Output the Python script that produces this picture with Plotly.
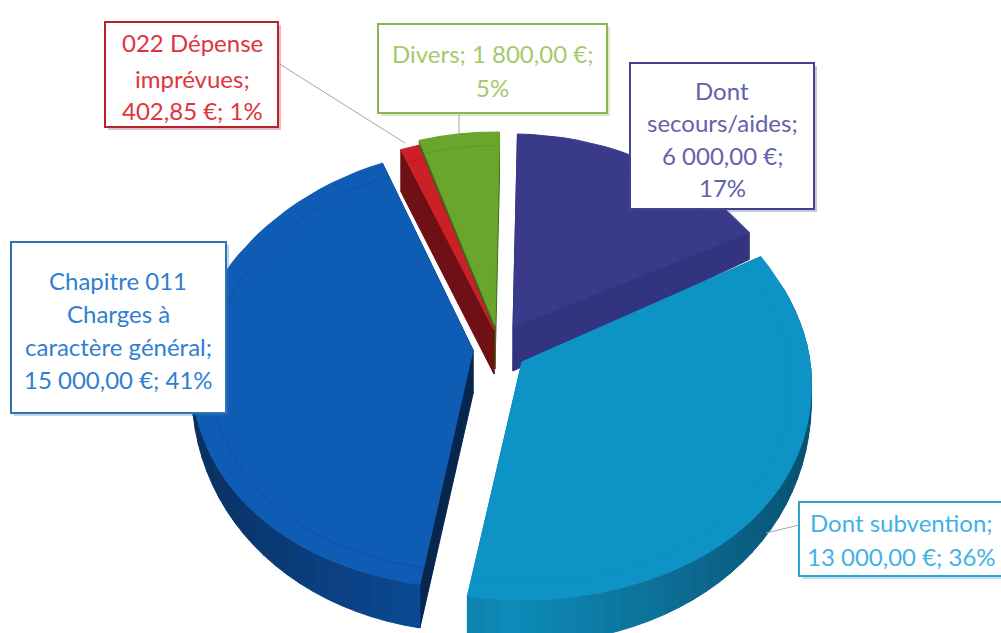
import numpy as np
import plotly.graph_objects as go

# Data, clockwise from the top
categories = ['Dont secours/aides', 'Dont subvention', 'Chapitre 011 Charges à caractère général',
              '022 Dépense imprévues', 'Divers']
values = [6000.00, 13000.00, 15000.00, 402.85, 1800.00]
label_lines = [
    ['Dont', 'secours/aides;', '6 000,00 €;', '17%'],
    ['Dont subvention;', '13 000,00 €; 36%'],
    ['Chapitre 011', 'Charges à', 'caractère général;', '15 000,00 €; 41%'],
    ['022 Dépense', 'imprévues;', '402,85 €; 1%'],
    ['Divers; 1 800,00 €;', '5%'],
]

# Styles for each slice, same order
face_colors = ['#393a8a', '#0d93c6', '#0f5cb4', '#cc2027', '#6aa52c']
edge_colors = ['#33347f', '#0c84b0', '#07264d', '#6e1015', '#3d6e1c']
wall_light = ['#33347f', '#0f8cba', '#0c4e9e', '#6e1015', '#3d6e1c']
wall_dark = ['#2a2b6c', '#0a4f70', '#0a2f5e', '#5a0c10', '#2f5716']
border_colors = ['#42438f', '#2fa3cc', '#2e74b5', '#b8232b', '#8db652']
text_colors = ['#6461ab', '#3fb2e6', '#2f7fd0', '#e0343c', '#a5c96b']

# Where each exploded slice has its tip and how big it looks, in picture pixels
apex_x = [513, 522, 473, 494, 495]
apex_y = [327, 362, 350, 330, 325]
radius_x = [285, 288, 280, 288, 288]
radius_back = [193, 215, 200, 193, 193]
# Label boxes: x0, y0, x1, y1 and the line heights inside
boxes = [(630, 63, 814, 209), (799, 502, 1010, 576), (11, 242, 226, 413),
         (105, 22, 278, 127), (378, 24, 607, 113)]
text_x = [722, 901, 118, 192, 492]
text_y = [[90, 122, 155, 187], [522, 556], [280, 313, 346, 379], [42, 78, 110], [53, 87]]
leaders = [None, (799, 525, 766, 533), None, (278, 63, 405, 143), (459, 113, 459, 133)]

RY_FRONT, DEPTH, PERSP, ROTATION = 238, 44, 0.1, 1.0


def rim(t, i, scale=1.0):
    # tilted, slightly perspective pie: the front is wider and taller than the back
    s, c = np.sin(t), np.cos(t)
    x = apex_x[i] + scale * radius_x[i] * s * (1 - PERSP * c)
    y = apex_y[i] - scale * np.where(c > 0, radius_back[i], RY_FRONT) * c
    return x, y


def wall_height(t):
    # the side wall thins out towards the left and right ends of the pie
    return DEPTH * (0.25 + 0.75 * np.abs(np.cos(t)))


def hex_mix(a, b, f):
    ca = np.array([int(a[i:i + 2], 16) for i in (1, 3, 5)])
    cb = np.array([int(b[i:i + 2], 16) for i in (1, 3, 5)])
    r, g, bl = (ca + (cb - ca) * f).astype(int)
    return f'rgb({r},{g},{bl})'


def poly(fig, xs, ys, color):
    fig.add_trace(go.Scatter(x=xs, y=ys, mode='lines', fill='toself', fillcolor=color,
                             line=dict(color=color, width=1), hoverinfo='skip', showlegend=False))


edges = np.radians(np.concatenate([[0], np.cumsum(values)]) / np.sum(values) * 360 + ROTATION)

fig = go.Figure()

# painter's order: back slices first, the big front ones last
for i in [0, 4, 3, 2, 1]:
    ax, ay = apex_x[i], apex_y[i]
    t = np.linspace(edges[i], edges[i + 1], max(4, int((edges[i + 1] - edges[i]) / np.radians(3))))
    x, y = rim(t, i)
    h = wall_height(t)

    # straight walls
    for k in (0, -1):
        poly(fig, [ax, x[k], x[k], ax, ax], [ay, y[k], y[k] + h[k], ay + DEPTH, ay], edge_colors[i])

    # outer wall, darker towards the sides
    for j in range(len(t) - 1):
        if np.cos(t[j]) > 0.35:
            continue
        shade = hex_mix(wall_light[i], wall_dark[i], abs(np.sin(t[j])))
        poly(fig, [x[j], x[j + 1], x[j + 1], x[j], x[j]],
             [y[j], y[j + 1], y[j + 1] + h[j + 1], y[j] + h[j], y[j]], shade)

    # top face
    poly(fig, np.r_[ax, x, ax], np.r_[ay, y, ay], face_colors[i])

    # faint bevel line inside the rim
    bx, by = rim(t, i, 0.93)
    fig.add_trace(go.Scatter(x=bx, y=by, mode='lines', opacity=0.2,
                             line=dict(color=edge_colors[i], width=1),
                             hoverinfo='skip', showlegend=False))

shapes = []
annotations = []
for i in range(len(values)):
    x0, y0, x1, y1 = boxes[i]
    if leaders[i]:
        lx0, ly0, lx1, ly1 = leaders[i]
        shapes.append(dict(type='line', x0=lx0, y0=ly0, x1=lx1, y1=ly1, xref='x', yref='y',
                           line=dict(color='#a6a6a6', width=1)))
    # soft shadow, then the box
    shapes.append(dict(type='rect', x0=x0 + 3, y0=y0 + 3, x1=x1 + 3, y1=y1 + 3, xref='x', yref='y',
                       fillcolor=border_colors[i], opacity=0.3, line=dict(width=0)))
    shapes.append(dict(type='rect', x0=x0, y0=y0, x1=x1, y1=y1, xref='x', yref='y',
                       fillcolor='white', line=dict(color=border_colors[i], width=2)))
    for line, ty in zip(label_lines[i], text_y[i]):
        annotations.append(dict(x=text_x[i], y=ty, text=line, xref='x', yref='y', showarrow=False,
                                xanchor='center', yanchor='middle',
                                font=dict(family='Lato', size=24, color=text_colors[i])))

fig.update_layout(
    width=1001, height=633,
    margin=dict(l=0, r=0, t=0, b=0),
    paper_bgcolor='white', plot_bgcolor='white',
    xaxis=dict(range=[0, 1001], visible=False, fixedrange=True),
    yaxis=dict(range=[633, 0], visible=False, fixedrange=True),
    shapes=shapes,
    annotations=annotations,
)

# the page's default body margin would push the figure 8px in
fig.write_html("out.html", post_script="document.body.style.margin='0';", config=dict(displayModeBar=False))
